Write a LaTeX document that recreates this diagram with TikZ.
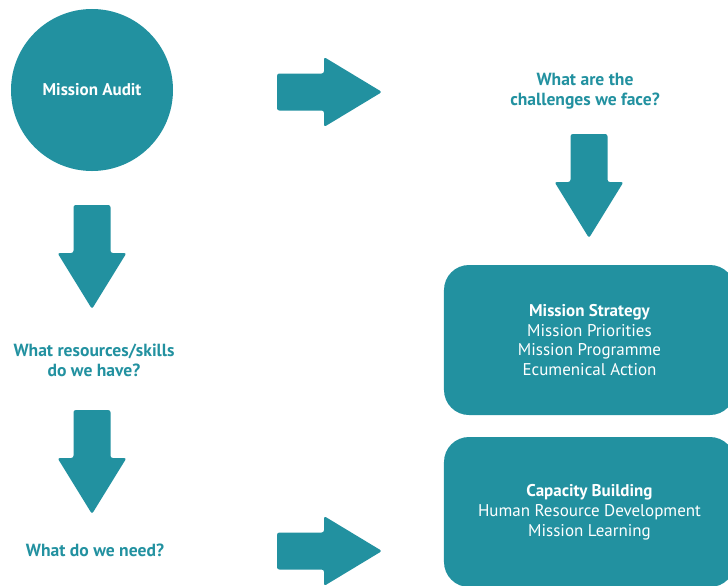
\documentclass[tikz,border=0pt]{standalone}
\usepackage{fontspec}
\setmainfont{PT Sans}
\usepackage{tikz}

\definecolor{teal1}{RGB}{34,145,160}

\tikzset{
  rarr/.pic={\fill[teal1,rounded corners=2] (0,-18.5) -- (47,-18.5) -- (47,-35) -- (105,0) -- (47,35) -- (47,18.5) -- (0,18.5) -- cycle;},
  darr/.pic={\fill[teal1,rounded corners=2] (-18.5,0) -- (-18.5,48) -- (-34.5,48) -- (0,104) -- (34.5,48) -- (18.5,48) -- (18.5,0) -- cycle;},
  question/.style={text=teal1,font=\bfseries\fontsize{15}{17}\selectfont,align=center},
  stepbox/.style={fill=teal1,rounded corners=0.75cm,minimum width=8.73cm,minimum height=4.5cm,text=white,font=\fontsize{14.5}{17}\selectfont,align=center}
}

\begin{document}
\begin{tikzpicture}[x=0.03cm,y=-0.03cm]
\useasboundingbox (0,0) rectangle (728,585);
\node[circle,fill=teal1,minimum size=4.86cm,text=white,font=\bfseries\fontsize{14.5}{17}\selectfont] (audit) at (92,90) {Mission Audit};
\node[question] (challenges) at (585,91) {What are the\\challenges we face?};
\node[question] (resources) at (94,360) {What resources/skills\\do we have?};
\node[question] (need) at (95,550) {What do we need?};
\node[stepbox] (strategy) at (589.5,340) {\textbf{Mission Strategy}\\Mission Priorities\\Mission Programme\\Ecumenical Action};
\node[stepbox] (capacity) at (589.5,512) {\textbf{Capacity Building}\\Human Resource Development\\Mission Learning};
\pic at (277,92) {rarr};
\pic at (277,551) {rarr};
\pic at (589,134) {darr};
\pic at (92,205) {darr};
\pic at (92,410) {darr};
\end{tikzpicture}
\end{document}
